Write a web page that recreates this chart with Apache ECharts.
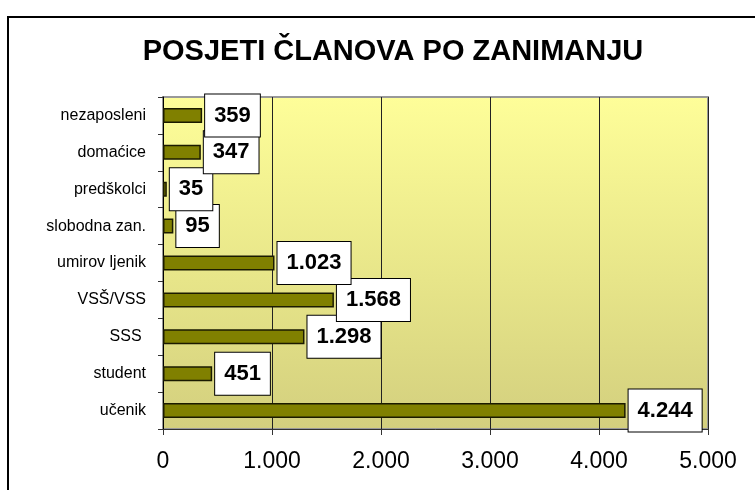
<!DOCTYPE html>
<html>
<head>
<meta charset="utf-8">
<script src="https://cdn.jsdelivr.net/npm/echarts@6/dist/echarts.min.js"></script>
<style>
  html, body { margin: 0; padding: 0; background: #fff; }
  #chart { width: 755px; height: 490px; }
</style>
</head>
<body>
<div id="chart"></div>
<script>
// zanimanja, odozdo prema gore
const categories = ['učenik', 'student', 'SSS ', 'VSŠ/VSS', 'umirov ljenik', 'slobodna zan.', 'predškolci', 'domaćice', 'nezaposleni']
const visits = [4244, 451, 1298, 1568, 1023, 95, 35, 347, 359]
const xTicks = [0, 1000, 2000, 3000, 4000, 5000]

const font = '"Liberation Sans", Arial, sans-serif'

const chart = echarts.init(document.getElementById('chart'))
chart.setOption({
  animation: false,
  title: {
    text: 'POSJETI ČLANOVA PO ZANIMANJU',
    left: 388,
    top: 32,
    textAlign: 'center',
    textStyle: { fontFamily: font, fontSize: 29, fontWeight: 'bold', color: '#000' }
  },
  graphic: [{
    type: 'rect',
    shape: { x: 8, y: 17, width: 800, height: 520 },
    style: { fill: null, stroke: '#000', lineWidth: 2 },
    z: 100
  }],
  grid: {
    left: 163, right: 47, top: 97, bottom: 61,
    show: true,
    borderColor: '#999',
    borderWidth: 2,
    backgroundColor: new echarts.graphic.LinearGradient(0, 0, 0, 1, [
      { offset: 0, color: '#fefe99' },
      { offset: 0.55, color: '#e7e589' },
      { offset: 1, color: '#d3cf7e' }
    ])
  },
  xAxis: {
    type: 'value',
    min: xTicks[0],
    max: xTicks[xTicks.length - 1],
    interval: 1000,
    axisLine: { show: true, lineStyle: { color: '#333', width: 1 } },
    axisTick: { show: true, length: 6, lineStyle: { color: '#333' } },
    splitLine: { show: true, lineStyle: { color: '#222', width: 1 } },
    axisLabel: {
      fontFamily: font, fontSize: 23, color: '#000', margin: 21,
      formatter: v => xTicks.includes(v) ? (v === 0 ? '0' : (v / 1000) + '.000') : ''
    }
  },
  yAxis: {
    type: 'category',
    data: categories,
    axisLine: { show: true, lineStyle: { color: '#000', width: 1 } },
    axisTick: { show: true, length: 5, lineStyle: { color: '#333' } },
    axisLabel: { fontFamily: font, fontSize: 16, color: '#000', margin: 17 }
  },
  series: [{
    type: 'bar',
    data: visits,
    barWidth: 15,
    itemStyle: { color: '#808000', borderColor: '#1a1a00', borderWidth: 1.5 },
    label: {
      show: true,
      position: 'right',
      distance: 3,
      fontFamily: font,
      fontSize: 22,
      fontWeight: 'bold',
      color: '#000',
      backgroundColor: '#fff',
      borderColor: '#000',
      borderWidth: 1,
      padding: [10, 9],
      formatter: p => p.value >= 1000
        ? Math.floor(p.value / 1000) + '.' + String(p.value % 1000).padStart(3, '0')
        : String(p.value)
    }
  }]
})
</script>
</body>
</html>
